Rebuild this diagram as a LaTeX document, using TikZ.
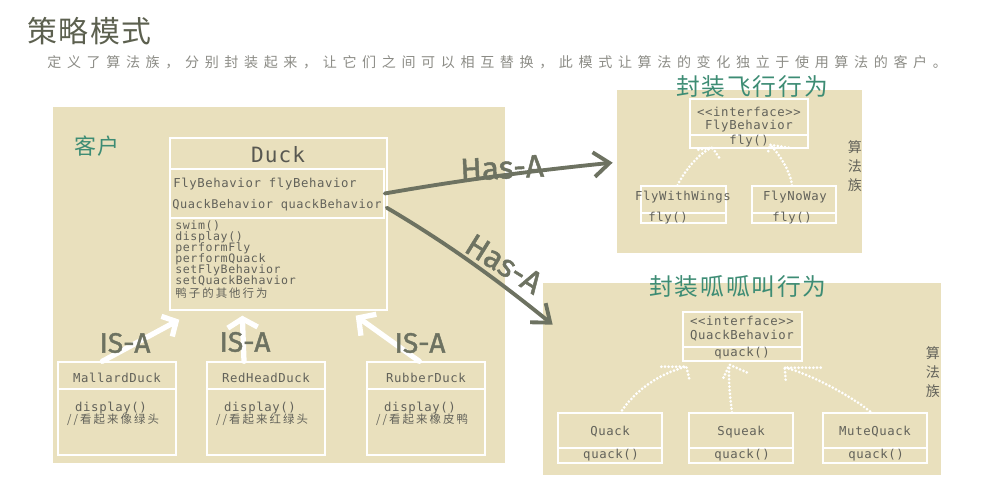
\documentclass[tikz,border=0pt]{standalone}
\usepackage{fontspec}
\usepackage{graphicx}
\usetikzlibrary{fit,calc,arrows.meta}

\newfontfamily\cjkfont{Noto Sans CJK SC}
\newfontfamily\cjktitle[LetterSpace=5]{Noto Sans CJK SC}
\newfontfamily\cjkwide[LetterSpace=40]{Noto Sans CJK SC}
\newfontfamily\cjkhead[LetterSpace=8]{Noto Sans CJK SC}
\newfontfamily\cjknote[LetterSpace=18]{Noto Sans CJK SC}
\newfontfamily\monofont[LetterSpace=5]{DejaVu Sans Mono}
\newfontfamily\handfont[FakeBold=1.5]{Fira Sans}

\definecolor{panelbg}{HTML}{E9E0BD}
\definecolor{inkgray}{HTML}{62625A}
\definecolor{titlegray}{HTML}{5C604F}
\definecolor{subgray}{HTML}{8C8C86}
\definecolor{headgreen}{HTML}{3D8C74}
\definecolor{pengray}{HTML}{6D7261}

\begin{document}
\begin{tikzpicture}[x=0.02cm, y=-0.02cm,
    panel/.style={fill=panelbg, inner sep=0pt},
    box/.style={draw=white, line width=0.8pt, inner sep=0pt},
    mono/.style={inner sep=0pt, text=inkgray, font=\monofont\fontsize{7}{8}\selectfont},
    small/.style={inner sep=0pt, text=inkgray, font=\monofont\fontsize{6.6}{7}\selectfont},
    note/.style={inner sep=0pt, text=inkgray, font=\cjknote\fontsize{6.5}{8}\selectfont},
    headtext/.style={inner sep=0pt, text=headgreen, font=\cjkhead\fontsize{13.5}{15}\selectfont},
    famtext/.style={inner sep=0pt, text=inkgray, align=center, font=\cjkfont\fontsize{8}{10.8}\selectfont},
    isatext/.style={inner sep=0pt, text=pengray, font=\handfont\fontsize{16}{16}\selectfont},
    hastext/.style={inner sep=0pt, text=pengray, font=\handfont\fontsize{18}{18}\selectfont},
    penline/.style={draw=pengray, line width=2.2pt, line cap=round, line join=round,
        -{Straight Barb[length=9pt, width=14pt]}},
    isaline/.style={draw=white, line width=3pt, line cap=round, line join=round},
    dotline/.style={draw=white, line width=1.7pt, line cap=round, dash pattern=on 0pt off 2.1pt},
]
    \useasboundingbox (0,0) rectangle (1000,500);

    \node[panel, fit={(53,107) (505,463)}] (clientpanel) {};
    \node[panel, fit={(617,90) (862,253)}] (flypanel) {};
    \node[panel, fit={(543,283) (941,475)}] (quackpanel) {};

    \node[inner sep=0pt, anchor=west, text=titlegray, font=\cjktitle\fontsize{17}{20}\selectfont] (title) at (27,31) {策略模式};
    \node[inner sep=0pt, anchor=west, text=subgray, font=\cjkwide\fontsize{8}{10}\selectfont] (subtitle) at (47,62)
        {定义了算法族，分别封装起来，让它们之间可以相互替换，此模式让算法的变化独立于使用算法的客户。};

    \node[headtext, font=\cjkhead\fontsize{12.5}{14}\selectfont] (clientlabel) at (97,146) {客户};
    \node[headtext] (flytitle) at (752,87) {封装飞行行为};
    \node[headtext] (quacktitle) at (738,287) {封装呱呱叫行为};
    \node[famtext] (flyfamily) at (855,166) {算\\法\\族};
    \node[famtext] (quackfamily) at (933,372) {算\\法\\族};

    \node[box, fit={(170,138) (387,310)}] (duck) {};
    \node[box, fit={(170,169) (384,218)}] (duckattrs) {};
    \node[mono, text=inkgray!90!black, font=\monofont\fontsize{12}{14}\selectfont] (duckname) at (278,155) {Duck};
    \node[mono, anchor=west] (flyattr) at (173,184) {FlyBehavior flyBehavior};
    \node[mono, anchor=west, font=\monofont\fontsize{6.8}{8}\selectfont] (quackattr) at (172,205) {QuackBehavior quackBehavior};
    \foreach \m [count=\i] in {swim(), display(), performFly, performQuack, setFlyBehavior, setQuackBehavior}
    {\node[small, anchor=west] (m\i) at (175, 215+11*\i) {\m};}
    \node[note, anchor=west] (m7) at (175,293) {鸭子的其他行为};

    \foreach \nm/\lft/\txt/\cmt in {mallard/58/MallardDuck/像绿头, redhead/207/RedHeadDuck/红绿头, rubber/367/RubberDuck/橡皮鸭}
    {
        \node[box, fit={(\lft,362) (\lft+118,389)}] (\nm head) {};
        \node[box, fit={(\lft,389) (\lft+118,455)}] (\nm body) {};
        \node[mono] (\nm name) at ($(\nm head.center)+(0,2)$) {\txt};
        \node[mono] (\nm show) at ($(\nm body.center)+(-6,-14)$) {display()};
        \node[note] (\nm note) at ($(\nm body.center)+(-4,-2)$) {//看起来\cmt};
    }

    \node[box, fit={(690,99) (808,135)}] (flyifhead) {};
    \node[box, fit={(690,135) (808,148)}] (flyifbody) {};
    \node[mono] (flyiftag) at (749,112) {<{}<interface>{}>};
    \node[mono] (flyifname) at (749,126) {FlyBehavior};
    \node[mono] (flyifop) at (749,141) {fly()};

    \node[box, fit={(641,186) (726,213)}] (flywingshead) {};
    \node[box, fit={(641,213) (726,223)}] (flywingsbody) {};
    \node[mono] (flywingsname) at (683,197) {FlyWithWings};
    \node[mono] (flywingsop) at (668,218) {fly()};
    \node[box, fit={(752,186) (836,213)}] (flynowayhead) {};
    \node[box, fit={(752,213) (836,223)}] (flynowaybody) {};
    \node[mono] (flynowayname) at (795,197) {FlyNoWay};
    \node[mono] (flynowayop) at (792,218) {fly()};

    \node[box, fit={(683,312) (802,347)}] (quackifhead) {};
    \node[box, fit={(683,347) (802,361)}] (quackifbody) {};
    \node[mono] (quackiftag) at (742,321) {<{}<interface>{}>};
    \node[mono] (quackifname) at (742,336) {QuackBehavior};
    \node[mono] (quackifop) at (742,353) {quack()};

    \foreach \nm/\lft/\txt in {quack/558/Quack, squeak/689/Squeak, mutequack/823/MuteQuack}
    {
        \node[box, fit={(\lft,413) (\lft+104,448)}] (\nm head) {};
        \node[box, fit={(\lft,448) (\lft+104,463)}] (\nm body) {};
        \node[mono] (\nm name) at ($(\nm head.center)+(0,1.5)$) {\txt};
        \node[mono] (\nm op) at ($(\nm body.center)+(1,0)$) {quack()};
    }

    \coordinate (isatip1) at ($(duck.south west)+(10,9)$);
    \coordinate (isatip2) at ($(duck.south west)+(73,5)$);
    \coordinate (isatip3) at ($(duck.south east)+(-32,5)$);
    \draw[isaline, -{Straight Barb[length=6pt, width=13pt]}] ($(mallardhead.north west)+(45,0)$) -- (isatip1);
    \draw[isaline, -{Straight Barb[length=5pt, width=17pt]}] ($(redheadhead.north)+(-22,0)$) -- (isatip2);
    \draw[isaline, -{Straight Barb[length=7pt, width=15pt]}] ($(rubberhead.north west)+(53,0)$) -- (isatip3);
    \node[isatext] (isa1) at (125,343) {IS-A};
    \node[isatext] (isa2) at (245,342) {IS-A};
    \node[isatext] (isa3) at (420,343) {IS-A};

    \coordinate (flytip) at ($(flypanel.north west)+(-4,73)$);
    \coordinate (quacktip) at ($(quackpanel.north west)+(10,42)$);
    \draw[penline] (duckattrs.east) .. controls (450,182) and (520,172) .. (flytip);
    \draw[penline] ($(duckattrs.south east)+(2,-11)$) .. controls (450,245) and (500,282) .. (quacktip);
    \node[hastext, rotate=3] (hasfly) at (502,168) {Has-A};
    \node[hastext, rotate=-32] (hasquack) at (504,264) {Has-A};

    \coordinate (flytipA) at ($(flyifbody.south west)+(23,-1)$);
    \draw[dotline] ($(flywingshead.north)+(-6,0)$) .. controls (685,170) and (700,152) .. (flytipA);
    \draw[dotline] ($(flytipA)+(-14,2)$) -- (flytipA) -- ++(7,10);
    \coordinate (flytipB) at ($(flyifbody.south east)+(-39,-4)$);
    \draw[dotline] ($(flynowayhead.north)+(-2,0)$) .. controls (790,170) and (778,152) .. (flytipB);
    \draw[dotline] ($(flytipB)+(19,3)$) -- (flytipB) -- ++(-2,9);

    \coordinate (qtipA) at ($(quackifbody.south west)+(4,5)$);
    \draw[dotline] ($(quackhead.north)+(12,-2)$) .. controls (640,385) and (665,372) .. (qtipA);
    \draw[dotline] ($(qtipA)+(-25,0)$) -- (qtipA) -- ++(3,12);
    \coordinate (qtipB) at ($(quackifbody.south)+(-13,3)$);
    \draw[dotline] ($(squeakhead.north)+(-9,0)$) .. controls (730,395) and (728,380) .. (qtipB);
    \draw[dotline] ($(qtipB)+(-6,13)$) -- (qtipB) -- ++(18,8);
    \coordinate (qtipC) at ($(quackifbody.south east)+(-18,6)$);
    \draw[dotline] ($(mutequackhead.north)+(-5,-1)$) .. controls (845,392) and (805,372) .. (qtipC);
    \draw[dotline] ($(qtipC)+(36,0)$) -- (qtipC) -- ++(1,13);
\end{tikzpicture}
\end{document}
